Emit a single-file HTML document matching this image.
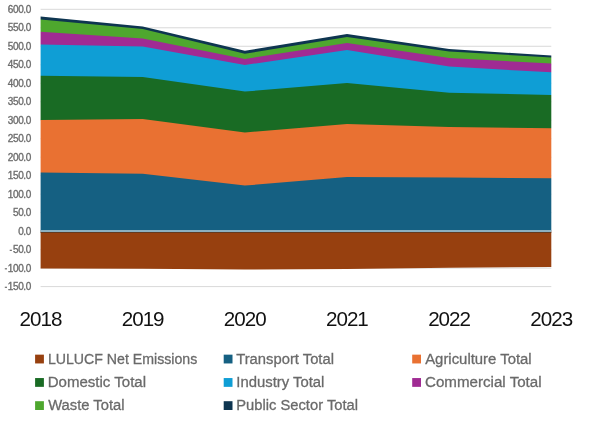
<!DOCTYPE html>
<html><head><meta charset="utf-8"><style>
html,body{margin:0;padding:0;background:#fff;width:592px;height:421px;overflow:hidden}
svg{display:block;will-change:transform}
text{font-family:"Liberation Sans",sans-serif}
</style></head><body>
<svg width="592" height="421" viewBox="0 0 592 421">
<rect width="592" height="421" fill="#fff"/>
<line x1="40.6" x2="551.3" y1="9.30" y2="9.30" stroke="#d9d9d9" stroke-width="1"/><line x1="40.6" x2="551.3" y1="27.79" y2="27.79" stroke="#d9d9d9" stroke-width="1"/><line x1="40.6" x2="551.3" y1="46.27" y2="46.27" stroke="#d9d9d9" stroke-width="1"/><line x1="40.6" x2="551.3" y1="64.76" y2="64.76" stroke="#d9d9d9" stroke-width="1"/><line x1="40.6" x2="551.3" y1="83.25" y2="83.25" stroke="#d9d9d9" stroke-width="1"/><line x1="40.6" x2="551.3" y1="101.73" y2="101.73" stroke="#d9d9d9" stroke-width="1"/><line x1="40.6" x2="551.3" y1="120.22" y2="120.22" stroke="#d9d9d9" stroke-width="1"/><line x1="40.6" x2="551.3" y1="138.71" y2="138.71" stroke="#d9d9d9" stroke-width="1"/><line x1="40.6" x2="551.3" y1="157.19" y2="157.19" stroke="#d9d9d9" stroke-width="1"/><line x1="40.6" x2="551.3" y1="175.68" y2="175.68" stroke="#d9d9d9" stroke-width="1"/><line x1="40.6" x2="551.3" y1="194.17" y2="194.17" stroke="#d9d9d9" stroke-width="1"/><line x1="40.6" x2="551.3" y1="212.65" y2="212.65" stroke="#d9d9d9" stroke-width="1"/><line x1="40.6" x2="551.3" y1="249.63" y2="249.63" stroke="#d9d9d9" stroke-width="1"/><line x1="40.6" x2="551.3" y1="268.11" y2="268.11" stroke="#d9d9d9" stroke-width="1"/><line x1="40.6" x2="551.3" y1="286.60" y2="286.60" stroke="#d9d9d9" stroke-width="1"/>
<defs><mask id="pc" maskUnits="userSpaceOnUse" x="0" y="0" width="592" height="421"><rect x="40.6" y="0" width="510.70" height="300" fill="#fff"/></mask></defs><g mask="url(#pc)"><polygon points="36.60,231.00 40.60,231.00 142.74,231.00 244.88,231.00 347.02,231.00 449.16,231.00 551.30,231.00 555.30,231.00 555.30,267.10 551.30,267.10 449.16,267.70 347.02,268.90 244.88,269.50 142.74,268.80 40.60,268.50 36.60,268.50" fill="#97400f"/><polygon points="36.60,16.60 40.60,16.60 142.74,26.40 244.88,50.80 347.02,34.10 449.16,48.90 551.30,55.60 555.30,55.60 555.30,231.00 551.30,231.00 449.16,231.00 347.02,231.00 244.88,231.00 142.74,231.00 40.60,231.00 36.60,231.00" fill="#0e3550"/><polygon points="36.60,19.50 40.60,19.50 142.74,29.10 244.88,53.80 347.02,37.10 449.16,51.60 551.30,57.40 555.30,57.40 555.30,231.00 551.30,231.00 449.16,231.00 347.02,231.00 244.88,231.00 142.74,231.00 40.60,231.00 36.60,231.00" fill="#4ea72e"/><polygon points="36.60,31.70 40.60,31.70 142.74,38.60 244.88,59.00 347.02,42.90 449.16,57.90 551.30,63.60 555.30,63.60 555.30,231.00 551.30,231.00 449.16,231.00 347.02,231.00 244.88,231.00 142.74,231.00 40.60,231.00 36.60,231.00" fill="#a02b93"/><polygon points="36.60,44.40 40.60,44.40 142.74,46.40 244.88,65.00 347.02,49.90 449.16,66.60 551.30,72.30 555.30,72.30 555.30,231.00 551.30,231.00 449.16,231.00 347.02,231.00 244.88,231.00 142.74,231.00 40.60,231.00 36.60,231.00" fill="#0f9ed5"/><polygon points="36.60,75.80 40.60,75.80 142.74,76.90 244.88,91.60 347.02,83.00 449.16,92.70 551.30,95.00 555.30,95.00 555.30,231.00 551.30,231.00 449.16,231.00 347.02,231.00 244.88,231.00 142.74,231.00 40.60,231.00 36.60,231.00" fill="#196b24"/><polygon points="36.60,119.90 40.60,119.90 142.74,119.00 244.88,132.40 347.02,124.00 449.16,127.00 551.30,128.20 555.30,128.20 555.30,231.00 551.30,231.00 449.16,231.00 347.02,231.00 244.88,231.00 142.74,231.00 40.60,231.00 36.60,231.00" fill="#e97132"/><polygon points="36.60,172.60 40.60,172.60 142.74,173.80 244.88,185.60 347.02,176.90 449.16,177.50 551.30,178.35 555.30,178.35 555.30,231.00 551.30,231.00 449.16,231.00 347.02,231.00 244.88,231.00 142.74,231.00 40.60,231.00 36.60,231.00" fill="#156082"/></g>
<line x1="40.6" x2="551.3" y1="231.0" y2="231.0" stroke="#8cb0c0" stroke-width="2"/><line x1="40.6" x2="551.3" y1="232.5" y2="232.5" stroke="#5e3a22" stroke-width="0.9"/>
<g font-size="10.0" fill="#6e6e6e" stroke="#6e6e6e" stroke-width="0.35"><text x="31" y="12.70" text-anchor="end" letter-spacing="-0.35">600.0</text><text x="31" y="31.19" text-anchor="end" letter-spacing="-0.35">550.0</text><text x="31" y="49.67" text-anchor="end" letter-spacing="-0.35">500.0</text><text x="31" y="68.16" text-anchor="end" letter-spacing="-0.35">450.0</text><text x="31" y="86.65" text-anchor="end" letter-spacing="-0.35">400.0</text><text x="31" y="105.13" text-anchor="end" letter-spacing="-0.35">350.0</text><text x="31" y="123.62" text-anchor="end" letter-spacing="-0.35">300.0</text><text x="31" y="142.11" text-anchor="end" letter-spacing="-0.35">250.0</text><text x="31" y="160.59" text-anchor="end" letter-spacing="-0.35">200.0</text><text x="31" y="179.08" text-anchor="end" letter-spacing="-0.35">150.0</text><text x="31" y="197.57" text-anchor="end" letter-spacing="-0.35">100.0</text><text x="31" y="216.05" text-anchor="end" letter-spacing="-0.35">50.0</text><text x="31" y="234.54" text-anchor="end" letter-spacing="-0.35">0.0</text><text x="31" y="253.03" text-anchor="end" letter-spacing="-0.35">50.0</text><rect x="9.7" y="249.73" width="2.2" height="1.2" stroke="none"/><text x="31" y="271.51" text-anchor="end" letter-spacing="-0.35">100.0</text><rect x="4.8" y="268.21" width="2.2" height="1.2" stroke="none"/><text x="31" y="290.00" text-anchor="end" letter-spacing="-0.35">150.0</text><rect x="4.8" y="286.70" width="2.2" height="1.2" stroke="none"/></g>
<g font-size="20.6" fill="#111"><text x="40.50" y="325.6" text-anchor="middle" letter-spacing="-1.0">2018</text><text x="142.64" y="325.6" text-anchor="middle" letter-spacing="-1.0">2019</text><text x="244.78" y="325.6" text-anchor="middle" letter-spacing="-1.0">2020</text><text x="346.92" y="325.6" text-anchor="middle" letter-spacing="-1.0">2021</text><text x="449.06" y="325.6" text-anchor="middle" letter-spacing="-1.0">2022</text><text x="551.20" y="325.6" text-anchor="middle" letter-spacing="-1.0">2023</text></g>
<g font-size="15.5" fill="#6a6a6a" stroke="#6a6a6a" stroke-width="0.3"><rect x="35.10" y="354.65" width="8.8" height="8.8" fill="#97400f" stroke="none"/><text x="47.90" y="363.65" textLength="149.40" lengthAdjust="spacingAndGlyphs">LULUCF Net Emissions</text><rect x="223.70" y="354.65" width="8.8" height="8.8" fill="#156082" stroke="none"/><text x="236.20" y="363.65" textLength="97.80" lengthAdjust="spacingAndGlyphs">Transport Total</text><rect x="412.20" y="354.65" width="8.8" height="8.8" fill="#e97132" stroke="none"/><text x="425.20" y="363.65" textLength="106.50" lengthAdjust="spacingAndGlyphs">Agriculture Total</text><rect x="35.10" y="378.05" width="8.8" height="8.8" fill="#196b24" stroke="none"/><text x="47.70" y="387.05" textLength="98.40" lengthAdjust="spacingAndGlyphs">Domestic Total</text><rect x="223.70" y="378.05" width="8.8" height="8.8" fill="#0f9ed5" stroke="none"/><text x="236.30" y="387.05" textLength="88.10" lengthAdjust="spacingAndGlyphs">Industry Total</text><rect x="412.20" y="378.05" width="8.8" height="8.8" fill="#a02b93" stroke="none"/><text x="425.00" y="387.05" textLength="116.60" lengthAdjust="spacingAndGlyphs">Commercial Total</text><rect x="35.10" y="401.20" width="8.8" height="8.8" fill="#4ea72e" stroke="none"/><text x="48.20" y="410.20" textLength="76.30" lengthAdjust="spacingAndGlyphs">Waste Total</text><rect x="223.70" y="401.20" width="8.8" height="8.8" fill="#0e3550" stroke="none"/><text x="236.30" y="410.20" textLength="121.70" lengthAdjust="spacingAndGlyphs">Public Sector Total</text></g>
</svg>
</body></html>
